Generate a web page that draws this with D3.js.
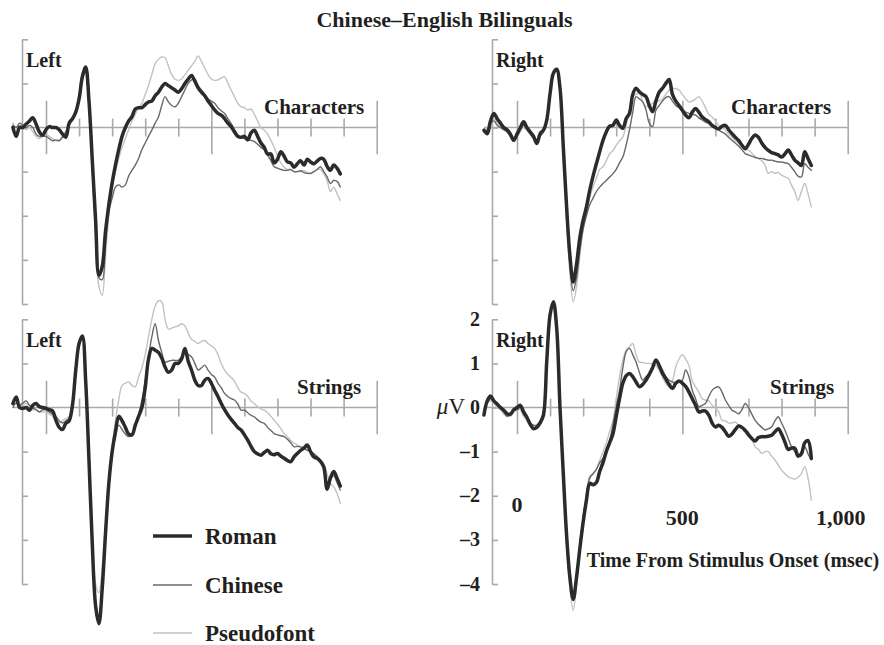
<!DOCTYPE html>
<html>
<head>
<meta charset="utf-8">
<script src="https://cdn.jsdelivr.net/npm/d3@7"></script>
<style>
  body { margin: 0; background: #fff; }
  svg text { font-family: "Liberation Serif", "Times New Roman", serif; font-weight: bold; fill: #231f20; }
</style>
</head>
<body>
<svg id="chart" width="884" height="645"></svg>
<script>
// Sample times (msec from stimulus onset)
const times = [
  -100, -90, -80, -70, -60, -50, -40, -30, -20, -10,
  0, 10, 20, 30, 40, 50, 60, 70, 80, 90,
  100, 110, 120, 130, 140, 150, 160, 170, 180, 190,
  200, 210, 220, 230, 240, 250, 260, 270, 280, 290,
  300, 310, 320, 330, 340, 350, 360, 370, 380, 390,
  400, 410, 420, 430, 440, 450, 460, 470, 480, 490,
  500, 510, 520, 530, 540, 550, 560, 570, 580, 590,
  600, 610, 620, 630, 640, 650, 660, 670, 680, 690,
  700, 710, 720, 730, 740, 750, 760, 770, 780, 790,
  800, 810, 820, 830, 840, 850, 860, 870, 880, 890
];

// Left hemisphere, characters (µV)
const leftCharRoman = [
  0.0, -0.2, 0.0, 0.0, 0.08, 0.15, 0.22, 0.08, -0.1, -0.17,
  -0.05, 0.02, 0.0, 0.0, -0.05, -0.15, -0.22, 0.1, 0.2, 0.35,
  0.65, 1.15, 1.37, 0.6, -0.75, -2.1, -3.35, -3.15, -2.35, -1.75,
  -1.25, -0.85, -0.5, -0.2, 0.0, 0.15, 0.25, 0.42, 0.45, 0.45,
  0.52, 0.58, 0.6, 0.72, 0.8, 0.92, 1.0, 0.95, 0.9, 0.85,
  0.8, 0.88, 1.0, 1.1, 1.18, 1.05, 0.9, 0.8, 0.72, 0.6,
  0.5, 0.4, 0.32, 0.28, 0.2, 0.1, 0.02, -0.1, -0.2, -0.22,
  -0.2, -0.28, -0.12, -0.06, -0.2, -0.35, -0.45, -0.6, -0.6, -0.8,
  -0.72, -0.55, -0.65, -0.78, -0.8, -0.9, -0.82, -0.75, -0.85, -0.72,
  -0.78, -0.82, -0.76, -0.7, -0.72, -0.88, -0.97, -0.85, -0.92, -1.05
];
const leftCharChinese = [
  0.05, 0.0, 0.1, 0.05, 0.0, 0.05, 0.0, -0.15, -0.2, -0.2,
  -0.2, -0.25, -0.3, -0.28, -0.3, -0.22, -0.1, 0.05, 0.2, 0.35,
  0.7, 1.2, 1.3, 0.55, -0.9, -2.3, -3.4, -3.45, -2.6, -1.9,
  -1.6, -1.35, -1.3, -1.35, -1.3, -1.1, -0.97, -0.85, -0.7, -0.5,
  -0.35, -0.2, -0.06, 0.1, 0.24, 0.5, 0.7, 0.58, 0.5, 0.47,
  0.55, 0.7, 0.85, 1.0, 1.08, 1.1, 0.95, 0.85, 0.75, 0.65,
  0.6, 0.55, 0.45, 0.38, 0.32, 0.2, 0.09, -0.05, -0.17, -0.22,
  -0.25, -0.28, -0.29, -0.32, -0.38, -0.45, -0.5, -0.62, -0.75, -0.89,
  -0.92, -0.95, -0.97, -0.97, -0.95, -1.0, -1.0, -0.98, -1.02, -1.04,
  -1.04, -1.0, -0.95, -0.89, -1.0, -1.12, -1.27, -1.2, -1.22, -1.35
];
const leftCharPseudo = [
  0.1, 0.0, 0.05, 0.0, -0.05, 0.0, -0.1, -0.2, -0.25, -0.2,
  -0.15, -0.2, -0.25, -0.3, -0.28, -0.2, -0.1, 0.05, 0.2, 0.4,
  0.75, 1.25, 1.3, 0.5, -1.0, -2.5, -3.6, -3.8, -2.9, -2.0,
  -1.4, -1.0, -0.7, -0.45, -0.25, -0.05, 0.15, 0.3, 0.45, 0.55,
  0.75, 0.95, 1.2, 1.45, 1.55, 1.6, 1.58, 1.4, 1.2, 1.1,
  1.07, 1.1, 1.2, 1.3, 1.4, 1.5, 1.62, 1.5, 1.35, 1.2,
  1.1, 1.07, 1.08, 1.12, 1.15, 1.0, 0.85, 0.7, 0.55, 0.47,
  0.45, 0.4, 0.42, 0.3, 0.15, 0.0, -0.06, -0.15, -0.29, -0.45,
  -0.65, -0.8, -0.9, -0.95, -0.95, -1.0, -1.0, -1.0, -0.98, -1.02,
  -1.04, -1.0, -0.95, -0.95, -1.05, -1.2, -1.45, -1.35, -1.5, -1.65
];

// Right hemisphere, characters (µV)
const rightCharRoman = [
  -0.06, -0.14, 0.15, 0.32, 0.2, 0.1, 0.0, -0.05, -0.15, -0.29,
  -0.15, 0.0, 0.13, 0.0, -0.1, -0.2, -0.36, -0.14, -0.06, 0.17,
  0.77, 1.23, 1.32, 0.9, -0.44, -1.8, -2.9, -3.5, -3.1, -2.5,
  -2.1, -1.8, -1.42, -1.1, -0.82, -0.55, -0.29, -0.1, 0.03, 0.05,
  0.17, 0.05, -0.02, 0.2, 0.32, 0.75, 0.89, 0.81, 0.75, 0.7,
  0.5, 0.36, 0.6, 0.8, 0.89, 1.0, 1.09, 0.75, 0.6, 0.5,
  0.39, 0.28, 0.22, 0.35, 0.43, 0.35, 0.24, 0.18, 0.13, 0.05,
  0.0, -0.03, 0.03, 0.05, -0.05, -0.14, -0.22, -0.29, -0.4, -0.48,
  -0.38, -0.25, -0.17, -0.22, -0.35, -0.45, -0.52, -0.57, -0.59, -0.62,
  -0.67, -0.6, -0.51, -0.62, -0.74, -0.8, -0.86, -0.55, -0.7, -0.86
];
const rightCharChinese = [
  -0.1, -0.05, 0.1, 0.15, 0.05, 0.0, -0.05, -0.1, -0.2, -0.3,
  -0.2, -0.05, 0.05, -0.05, -0.15, -0.25, -0.35, -0.2, -0.1, 0.15,
  0.75, 1.2, 1.3, 0.85, -0.5, -1.9, -3.1, -3.7, -3.4, -2.8,
  -2.3, -2.0, -1.75, -1.6, -1.45, -1.35, -1.27, -1.2, -1.12, -1.05,
  -0.95, -0.8, -0.67, -0.4, -0.06, 0.35, 0.7, 0.65, 0.58, 0.4,
  0.1, 0.02, 0.39, 0.5, 0.6, 0.68, 0.7, 0.6, 0.5, 0.45,
  0.39, 0.35, 0.32, 0.3, 0.28, 0.22, 0.17, 0.12, 0.09, 0.03,
  -0.02, -0.06, -0.1, -0.15, -0.22, -0.29, -0.35, -0.42, -0.5, -0.59,
  -0.62, -0.65, -0.68, -0.7, -0.7, -0.72, -0.74, -0.74, -0.76, -0.78,
  -0.78, -0.8, -0.82, -0.9, -1.0, -1.1, -1.12, -0.82, -0.9, -0.97
];
const rightCharPseudo = [
  -0.05, 0.0, 0.15, 0.2, 0.1, 0.0, -0.05, -0.1, -0.2, -0.25,
  -0.2, -0.1, 0.0, -0.05, -0.15, -0.25, -0.3, -0.2, -0.05, 0.2,
  0.8, 1.25, 1.3, 0.8, -0.6, -2.1, -3.3, -3.95, -3.6, -2.9,
  -2.3, -1.9, -1.58, -1.35, -1.15, -0.95, -0.89, -0.75, -0.6, -0.52,
  -0.4, -0.3, -0.21, 0.05, 0.4, 0.7, 0.75, 0.77, 0.6, 0.47,
  0.5, 0.55, 0.62, 0.6, 0.65, 0.75, 0.85, 0.89, 0.88, 0.85,
  0.75, 0.65, 0.58, 0.6, 0.65, 0.7, 0.6, 0.45, 0.3, 0.24,
  0.15, 0.05, 0.0, -0.06, -0.15, -0.22, -0.29, -0.35, -0.42, -0.48,
  -0.51, -0.58, -0.65, -0.7, -0.75, -0.85, -1.04, -1.0, -1.04, -1.02,
  -1.08, -1.12, -1.15, -1.3, -1.45, -1.65, -1.45, -1.27, -1.5, -1.8
];

// Left hemisphere, strings (µV)
const leftStrRoman = [
  0.09, 0.24, 0.0, -0.02, 0.0, -0.06, 0.05, 0.09, 0.02, 0.0,
  -0.02, -0.05, -0.08, -0.29, -0.45, -0.5, -0.36, -0.3, 0.05, 0.85,
  1.45, 1.62, 0.6, -1.2, -3.1, -4.5, -4.9, -4.1, -2.85, -1.72,
  -1.0, -0.55, -0.2, -0.3, -0.45, -0.6, -0.62, -0.4, -0.2, 0.0,
  0.45, 1.1, 1.34, 1.3, 1.25, 1.12, 0.92, 0.8, 0.85, 1.0,
  1.0, 1.1, 1.34, 1.05, 0.85, 0.62, 0.5, 0.5, 0.62, 0.66,
  0.55, 0.39, 0.25, 0.09, -0.05, -0.17, -0.27, -0.36, -0.45, -0.51,
  -0.62, -0.74, -0.88, -1.0, -1.05, -1.08, -1.02, -0.97, -1.05, -1.07,
  -1.04, -1.1, -1.15, -1.2, -1.23, -1.12, -1.04, -0.97, -0.92, -0.85,
  -1.0, -1.12, -1.15, -1.22, -1.35, -1.85, -1.6, -1.45, -1.6, -1.78
];
const leftStrChinese = [
  0.0, 0.1, 0.05, 0.1, 0.15, 0.05, 0.0, -0.05, -0.1, -0.05,
  -0.05, -0.1, -0.15, -0.2, -0.3, -0.35, -0.3, -0.25, 0.0, 0.8,
  1.4, 1.6, 0.6, -1.2, -3.1, -4.4, -4.8, -4.0, -2.8, -1.75,
  -1.05, -0.65, -0.4, -0.5, -0.6, -0.66, -0.6, -0.4, -0.15, 0.17,
  0.6, 1.15, 1.6, 1.9, 1.52, 1.25, 1.03, 1.05, 1.07, 1.07,
  1.07, 1.15, 1.26, 1.2, 1.15, 1.0, 0.85, 0.9, 0.96, 0.85,
  0.75, 0.69, 0.55, 0.45, 0.32, 0.25, 0.2, 0.17, 0.08, -0.06,
  -0.06, -0.12, -0.18, -0.21, -0.28, -0.33, -0.36, -0.45, -0.52, -0.59,
  -0.62, -0.64, -0.66, -0.72, -0.8, -0.89, -0.88, -0.89, -0.93, -0.97,
  -1.0, -1.05, -1.12, -1.22, -1.35, -1.72, -1.6, -1.55, -1.7, -1.87
];
const leftStrPseudo = [
  0.05, 0.1, 0.05, 0.05, 0.1, 0.0, -0.05, -0.05, -0.1, -0.1,
  -0.1, -0.15, -0.2, -0.3, -0.35, -0.3, -0.25, -0.2, 0.0, 0.8,
  1.4, 1.55, 0.6, -1.1, -2.9, -4.0, -4.2, -3.6, -2.6, -1.6,
  -0.9, -0.3, 0.17, 0.5, 0.55, 0.58, 0.5, 0.47, 0.7, 0.9,
  1.2, 1.6, 2.0, 2.3, 2.42, 2.4, 2.0, 1.78, 1.8, 1.83,
  1.85, 1.9, 1.85, 1.68, 1.55, 1.5, 1.45, 1.5, 1.52, 1.45,
  1.4, 1.34, 1.2, 1.0, 0.85, 0.75, 0.68, 0.6, 0.45, 0.35,
  0.32, 0.25, 0.15, 0.09, 0.02, -0.03, -0.06, -0.12, -0.2, -0.29,
  -0.38, -0.48, -0.59, -0.66, -0.75, -0.81, -0.85, -0.89, -0.9, -0.95,
  -1.0, -1.04, -1.1, -1.2, -1.27, -1.5, -1.72, -1.8, -1.95, -2.17
];

// Right hemisphere, strings (µV)
const rightStrRoman = [
  -0.17, 0.15, 0.26, 0.15, 0.08, 0.0, -0.06, -0.14, -0.15, -0.05,
  0.0, 0.05, -0.1, -0.22, -0.38, -0.48, -0.45, -0.35, -0.17, 1.05,
  2.1, 2.4, 1.8, 0.0, -1.5, -2.9, -3.85, -4.35, -3.85, -3.2,
  -2.6, -2.1, -1.72, -1.75, -1.7, -1.45, -1.25, -1.0, -0.8, -0.6,
  -0.2, 0.2, 0.55, 0.72, 0.77, 0.7, 0.58, 0.47, 0.52, 0.62,
  0.75, 0.9, 1.08, 0.95, 0.77, 0.65, 0.52, 0.43, 0.55, 0.6,
  0.55, 0.48, 0.35, 0.2, 0.05, -0.1, -0.08, -0.08, -0.17, -0.35,
  -0.44, -0.4, -0.45, -0.55, -0.65, -0.6, -0.5, -0.42, -0.45, -0.52,
  -0.62, -0.7, -0.76, -0.68, -0.66, -0.66, -0.65, -0.63, -0.55, -0.48,
  -0.6, -0.78, -0.95, -0.92, -0.92, -1.1, -1.05, -0.8, -0.75, -1.15
];
const rightStrChinese = [
  -0.1, 0.1, 0.2, 0.15, 0.05, 0.0, -0.1, -0.2, -0.15, -0.05,
  -0.05, 0.0, -0.15, -0.25, -0.35, -0.4, -0.4, -0.3, -0.1, 1.0,
  2.1, 2.35, 1.75, 0.0, -1.5, -2.9, -3.9, -4.3, -3.8, -3.1,
  -2.5, -2.0, -1.6, -1.5, -1.4, -1.25, -1.15, -0.95, -0.75, -0.4,
  0.0, 0.39, 0.9, 1.26, 1.34, 1.2, 1.03, 0.8, 0.62, 0.7,
  0.77, 0.92, 1.07, 0.95, 0.85, 0.7, 0.62, 0.58, 0.54, 0.58,
  0.62, 0.85, 0.7, 0.39, 0.2, 0.02, 0.05, 0.09, 0.25, 0.39,
  0.45, 0.47, 0.35, 0.17, 0.05, -0.06, -0.1, -0.14, -0.05, 0.09,
  0.0, -0.15, -0.29, -0.38, -0.45, -0.51, -0.48, -0.44, -0.3, -0.21,
  -0.35, -0.51, -0.7, -0.89, -1.0, -1.12, -1.0, -0.89, -1.05, -1.19
];
const rightStrPseudo = [
  -0.05, 0.1, 0.15, 0.1, 0.0, -0.05, -0.15, -0.2, -0.2, -0.1,
  -0.05, -0.05, -0.2, -0.3, -0.4, -0.45, -0.4, -0.3, -0.1, 1.0,
  2.1, 2.4, 1.8, 0.05, -1.6, -3.1, -4.1, -4.6, -4.0, -3.1,
  -2.5, -1.95, -1.55, -1.5, -1.4, -1.2, -1.0, -0.8, -0.55, -0.3,
  0.2, 0.7, 1.07, 1.3, 1.38, 1.45, 1.2, 1.03, 1.02, 1.0,
  1.0, 0.98, 0.95, 0.85, 0.69, 0.55, 0.47, 0.6, 0.92, 1.1,
  1.2, 1.1, 0.95, 0.6, 0.47, 0.35, 0.2, 0.17, 0.15, 0.05,
  0.0, -0.1, -0.29, -0.3, -0.35, -0.35, -0.33, -0.4, -0.45, -0.5,
  -0.55, -0.7, -0.89, -0.95, -1.04, -1.0, -1.0, -1.1, -1.19, -1.3,
  -1.42, -1.5, -1.57, -1.6, -1.62, -1.58, -1.5, -1.34, -1.6, -2.1
];

const seriesNames = ["Roman", "Chinese", "Pseudofont"];
const yTickValues = [-4, -3, -2, -1, 0, 1, 2];
const yTickLabels = ["\u20134", "\u20133", "\u20132", "\u20131", "0", "1", "2"];
const yUnit = "\u03bcV";
const xMinorTicks = [100, 200, 300, 400, 600, 700, 800, 900];
const xMajorTicks = [0, 500, 1000];
const xTickLabels = ["0", "500", "1,000"];
const titleText = "Chinese\u2013English Bilinguals";
const xAxisTitle = "Time From Stimulus Onset (msec)";

const seriesStyle = {
  Roman:      { stroke: "#2b2b2b", width: 3.5 },
  Chinese:    { stroke: "#686868", width: 1.4 },
  Pseudofont: { stroke: "#c2c2c2", width: 1.4 }
};
const axisColor = "#a9a9a9";

const panels = [
  { side: "Left",  cond: "Characters", x0: 46,  axisX: 22,  yTop: 39.3,  yBot: 304, series: [leftCharRoman, leftCharChinese, leftCharPseudo],  condX: 264, labels: false },
  { side: "Right", cond: "Characters", x0: 517, axisX: 492, yTop: 39.3,  yBot: 304, series: [rightCharRoman, rightCharChinese, rightCharPseudo], condX: 731, labels: false },
  { side: "Left",  cond: "Strings",    x0: 46,  axisX: 22,  yTop: 319.3, yBot: 584, series: [leftStrRoman, leftStrChinese, leftStrPseudo],      condX: 297, labels: false },
  { side: "Right", cond: "Strings",    x0: 517, axisX: 492, yTop: 319.3, yBot: 584, series: [rightStrRoman, rightStrChinese, rightStrPseudo],    condX: 770, labels: true }
];

const svg = d3.select("#chart");

svg.append("text")
  .attr("x", 444.5).attr("y", 26.5)
  .attr("text-anchor", "middle")
  .style("font-size", "22px")
  .text(titleText);

panels.forEach(p => {
  const g = svg.append("g");
  const x = d3.scaleLinear().domain([0, 1000]).range([p.x0, p.x0 + 330.7]);
  const y = d3.scaleLinear().domain([-4, 2]).range([p.yBot, p.yTop]);
  const y0 = y(0);

  // vertical µV axis, ticks pointing right
  const yAxis = g.append("g")
    .attr("transform", `translate(${p.axisX},0)`)
    .call(d3.axisRight(y).tickValues(yTickValues).tickSize(6).tickSizeOuter(0).tickFormat(""));
  yAxis.selectAll("path, line").attr("stroke", axisColor).attr("stroke-width", 1.6);

  // zero line (time axis)
  g.append("line")
    .attr("x1", x(-100)).attr("x2", x(1000))
    .attr("y1", y0).attr("y2", y0)
    .attr("stroke", axisColor).attr("stroke-width", 1.6);

  const minor = g.append("g")
    .attr("transform", `translate(0,${y0 - 9})`)
    .call(d3.axisBottom(x).tickValues(xMinorTicks).tickSize(18).tickFormat(""));
  const major = g.append("g")
    .attr("transform", `translate(0,${y0 - 26.7})`)
    .call(d3.axisBottom(x).tickValues(xMajorTicks).tickSize(53.4).tickFormat(""));
  [minor, major].forEach(a => {
    a.select(".domain").remove();
    a.selectAll("line").attr("stroke", axisColor).attr("stroke-width", 1.6);
  });

  // waveforms: lightest first so Roman sits on top
  const line = d3.line()
    .x((d, i) => x(times[i]))
    .y(d => y(d))
    .curve(d3.curveCatmullRom.alpha(0.5));
  [2, 1, 0].forEach(k => {
    const st = seriesStyle[seriesNames[k]];
    g.append("path")
      .datum(p.series[k])
      .attr("d", line)
      .attr("fill", "none")
      .attr("stroke", st.stroke)
      .attr("stroke-width", st.width)
      .attr("stroke-linejoin", "round")
      .attr("stroke-linecap", "round");
  });

  // panel labels
  g.append("text")
    .attr("x", p.axisX + 4).attr("y", p.yTop + 28)
    .style("font-size", "20px")
    .text(p.side);
  g.append("text")
    .attr("x", p.condX).attr("y", y0 - 14)
    .style("font-size", "21px")
    .text(p.cond);

  if (p.labels) {
    const lab = g.append("g");

    // value labels; the zero row carries the unit in front of it
    yTickValues.forEach((v, i) => {
      const t = lab.append("text")
        .attr("x", p.axisX - 12)
        .attr("y", y(v) + 6.5)
        .attr("text-anchor", "end")
        .style("font-size", "20px");
      if (v === 0) {
        t.append("tspan")
          .style("font-style", "italic").style("font-weight", "normal").style("font-size", "23px")
          .text(yUnit[0]);
        t.append("tspan")
          .style("font-weight", "normal").style("font-size", "23px")
          .text(yUnit.slice(1));
        t.append("tspan").text("\u00a0" + yTickLabels[i]);
      } else {
        t.text(yTickLabels[i]);
      }
    });

    lab.selectAll("text.xl")
      .data(xMajorTicks)
      .join("text")
      .attr("class", "xl")
      .attr("x", (d, i) => x(d) - (i === 2 ? 7 : 0))
      .attr("y", (d, i) => i === 0 ? 512 : 525)
      .attr("text-anchor", "middle")
      .style("font-size", "22px")
      .text((d, i) => xTickLabels[i]);

    lab.append("text")
      .attr("x", 586.7).attr("y", 567.3)
      .style("font-size", "20px")
      .text(xAxisTitle);
  }
});

// legend
const legendRows = [536, 585, 633];
const legend = svg.append("g");
seriesNames.forEach((name, i) => {
  const st = seriesStyle[name];
  legend.append("line")
    .attr("x1", 153).attr("x2", 192)
    .attr("y1", legendRows[i]).attr("y2", legendRows[i])
    .attr("stroke", st.stroke)
    .attr("stroke-width", i === 0 ? 3.6 : 1.6);
  legend.append("text")
    .attr("x", 205).attr("y", legendRows[i] + 8)
    .style("font-size", "23px")
    .text(name);
});
</script>
</body>
</html>
